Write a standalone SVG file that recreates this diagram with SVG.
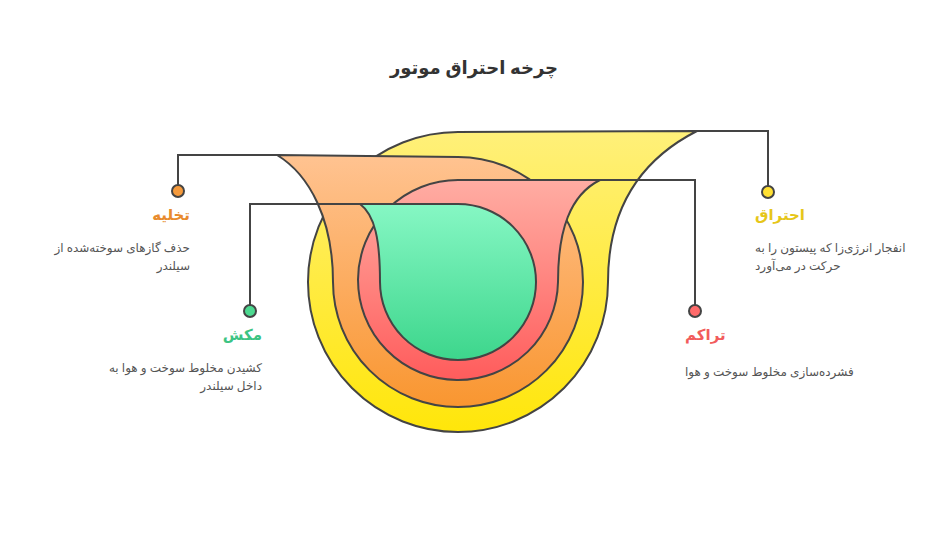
<svg xmlns="http://www.w3.org/2000/svg" width="948" height="552" viewBox="0 0 948 552">
<style>
text{font-family:"Noto Sans","DejaVu Sans",sans-serif}
.t{font-size:18px;font-weight:bold;fill:#333}
.l{font-size:15px;font-weight:bold}
.d{font-size:12px;fill:#555}
.s{stroke:#444;stroke-width:2}
.c{fill:none;stroke:#444;stroke-width:2}
</style>
<defs>
<linearGradient id="gy" x1="0" y1="0" x2="0" y2="1"><stop offset="0" stop-color="#FFF07A"/><stop offset="1" stop-color="#FFE60A"/></linearGradient>
<linearGradient id="go" x1="0" y1="0" x2="0" y2="1"><stop offset="0" stop-color="#FFC391"/><stop offset="1" stop-color="#F99630"/></linearGradient>
<linearGradient id="gr" x1="0" y1="0" x2="0" y2="1"><stop offset="0" stop-color="#FFADA3"/><stop offset="1" stop-color="#FF5C5C"/></linearGradient>
<linearGradient id="gg" x1="0" y1="0" x2="0" y2="1"><stop offset="0" stop-color="#86F7C4"/><stop offset="1" stop-color="#3DD68C"/></linearGradient>
</defs>
<text class="t" x="474" y="74" text-anchor="middle" direction="rtl">چرخه احتراق موتور</text>
<g id="yellow"><path class="s" fill="url(#gy)" d="M458 132 L697 131 C640 160 608 210 608 282 A150 150 0 1 1 458 132 Z"/></g>
<g id="orange"><path class="s" fill="url(#go)" d="M277 155 L458 157 A125 125 0 1 1 333 282 C333 220 310 175 277 155 Z"/></g>
<g id="red"><path class="s" fill="url(#gr)" d="M458 180 L600 180 C570 195 558 230 558 282 A100 100 0 1 1 458 180 Z"/></g>
<g id="green"><path class="s" fill="url(#gg)" d="M360 204 L458 204 A78 78 0 1 1 380 282 C380 240 375 215 360 204 Z"/></g>
<g id="connectors">
<path class="c" d="M768 192 V131 H697"/>
<path class="c" d="M178 191 V155 H277"/>
<path class="c" d="M695 311 V180 H600"/>
<path class="c" d="M250 311 V204 H360"/>
<circle cx="768" cy="192" r="6" fill="#FFE033" class="s"/>
<circle cx="178" cy="191" r="6" fill="#F59A3C" class="s"/>
<circle cx="695" cy="311" r="6" fill="#FF6B6B" class="s"/>
<circle cx="250" cy="311" r="6" fill="#4CD990" class="s"/>
</g>
<g id="n-ehtragh">
<text class="l" x="755" y="220" text-anchor="end" direction="rtl" fill="#E6C619">احتراق</text>
<text class="d" x="755" y="252" text-anchor="end" direction="rtl">انفجار انرژی‌زا که پیستون را به</text>
<text class="d" x="755" y="270" text-anchor="end" direction="rtl">حرکت در می‌آورد</text>
</g>
<g id="n-tarakom">
<text class="l" x="685" y="340" text-anchor="end" direction="rtl" fill="#F25C5C">تراکم</text>
<text class="d" x="685" y="376" text-anchor="end" direction="rtl">فشرده‌سازی مخلوط سوخت و هوا</text>
</g>
<g id="n-takhlie">
<text class="l" x="190" y="220" text-anchor="start" direction="rtl" fill="#E88B2E">تخلیه</text>
<text class="d" x="190" y="252" text-anchor="start" direction="rtl">حذف گازهای سوخته‌شده از</text>
<text class="d" x="190" y="270" text-anchor="start" direction="rtl">سیلندر</text>
</g>
<g id="n-makesh">
<text class="l" x="262" y="340" text-anchor="start" direction="rtl" fill="#3CC483">مکش</text>
<text class="d" x="262" y="372" text-anchor="start" direction="rtl">کشیدن مخلوط سوخت و هوا به</text>
<text class="d" x="262" y="390" text-anchor="start" direction="rtl">داخل سیلندر</text>
</g>
</svg>
